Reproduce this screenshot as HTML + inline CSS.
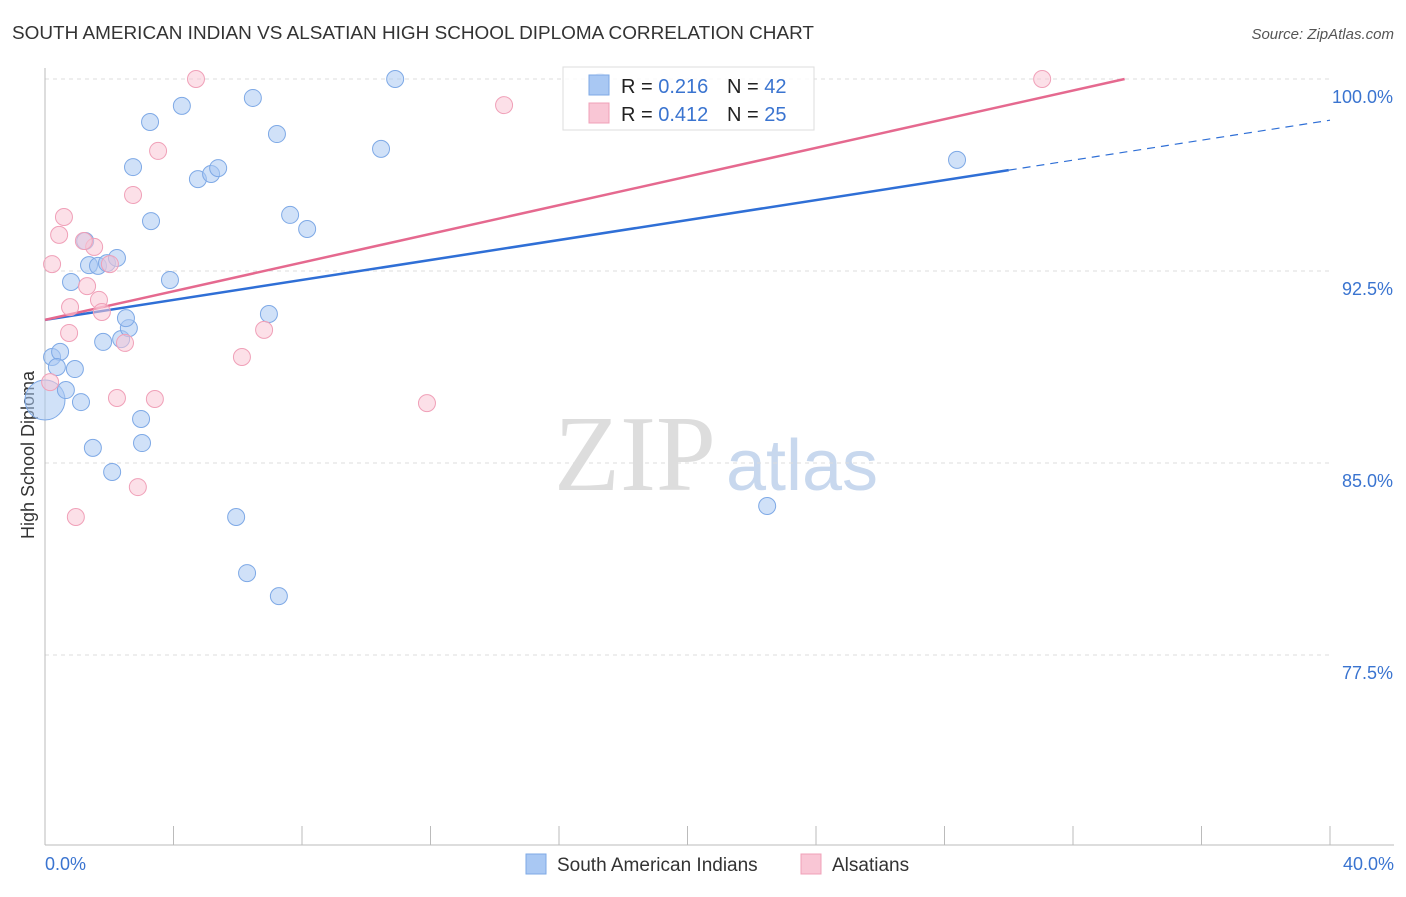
<!DOCTYPE html>
<html><head><meta charset="utf-8"><style>
body{margin:0;background:#fff;font-family:"Liberation Sans",sans-serif;}
</style></head><body>
<svg id="chart" width="1406" height="892" xmlns="http://www.w3.org/2000/svg">
<text x="12" y="39" font-size="18" fill="#333" textLength="802" lengthAdjust="spacingAndGlyphs">SOUTH AMERICAN INDIAN VS ALSATIAN HIGH SCHOOL DIPLOMA CORRELATION CHART</text>
<text x="1394" y="39" font-size="15" fill="#555" font-style="italic" text-anchor="end">Source: ZipAtlas.com</text>
<text x="34" y="455" font-size="18" fill="#333" transform="rotate(-90 34 455)" text-anchor="middle">High School Diploma</text>
<g>
<text x="635" y="490" font-size="108" font-family="Liberation Serif,serif" fill="#ddd" text-anchor="middle">ZIP</text>
<text x="802" y="490" font-size="72" fill="#c8d8ee" text-anchor="middle">atlas</text>
</g>
<g id="grid"></g><g id="axes"></g><g id="trend"></g><g id="pts"></g>
<g>
<rect x="563" y="67" width="251" height="63" fill="rgba(255,255,255,0.85)" stroke="#ddd"/>
<rect x="589" y="75" width="20" height="20" fill="#a9c8f3" stroke="#7ea9e6"/>
<rect x="589" y="103" width="20" height="20" fill="#f9c6d5" stroke="#f0a0b8"/>
<text x="621" y="93" font-size="20" fill="#222">R = <tspan fill="#3a74d0">0.216</tspan></text>
<text x="727" y="93" font-size="20" fill="#222">N = <tspan fill="#3a74d0">42</tspan></text>
<text x="621" y="121" font-size="20" fill="#222">R = <tspan fill="#3a74d0">0.412</tspan></text>
<text x="727" y="121" font-size="20" fill="#222">N = <tspan fill="#3a74d0">25</tspan></text>
</g>
<g>
<rect x="526" y="854" width="20" height="20" fill="#a9c8f3" stroke="#7ea9e6"/>
<text x="557" y="871" font-size="19" fill="#333">South American Indians</text>
<rect x="801" y="854" width="20" height="20" fill="#f9c6d5" stroke="#f0a0b8"/>
<text x="832" y="871" font-size="19" fill="#333">Alsatians</text>
</g>
</svg>
<script>
const yTicks=[100,92.5,85,77.5];
const yTickLabels=["100.0%","92.5%","85.0%","77.5%"];
const xLabels=["0.0%","40.0%"];
const blueX=[0.22,0.47,0.37,0.93,0.0,0.65,1.12,1.49,2.09,2.99,3.02,1.81,2.37,2.61,2.52,1.37,1.65,1.93,2.24,1.25,0.81,3.89,3.30,2.74,3.27,4.26,4.76,5.17,5.39,6.47,7.22,7.63,8.16,6.97,5.95,6.29,7.28,10.46,10.90,17.28,22.48,28.39];
const blueY=[89.14,89.34,88.75,88.67,87.46,87.85,87.38,85.59,84.65,86.72,85.78,89.73,89.84,90.27,90.66,92.73,92.70,92.81,93.01,93.67,92.07,92.15,94.45,96.56,98.32,98.95,96.09,96.29,96.52,99.26,97.85,94.69,94.14,90.82,82.89,80.70,79.80,97.27,100.0,99.88,83.32,96.84];
const pinkX=[0.22,0.44,0.59,0.78,0.75,1.31,1.68,1.77,1.53,1.21,2.02,2.49,2.24,3.42,2.89,0.96,2.74,3.52,4.70,6.13,6.82,11.89,14.29,31.04,0.16];
const pinkY=[92.77,93.91,94.61,91.09,90.08,91.91,91.37,90.90,93.44,93.67,92.77,89.69,87.54,87.50,84.06,82.89,95.47,97.19,100.0,89.14,90.20,87.34,98.98,100.0,88.16];
const blueTrend=[90.59,0.195];
const pinkTrend=[90.59,0.28];
const X=v=>45+v/40*1285, Y=v=>79+(100-v)/7.5*192;
const NS="http://www.w3.org/2000/svg";
function mk(p,t,a){const e=document.createElementNS(NS,t);for(const k in a)e.setAttribute(k,a[k]);document.getElementById(p).appendChild(e);return e;}
yTicks.forEach((t,i)=>{
 const l=mk('grid','line',{x1:45,x2:1330,y1:Y(t),y2:Y(t),stroke:'#ddd','stroke-dasharray':'4,4'});
 
 
 const tx=mk('grid','text',{x:1393,y:Y(t)+24,'font-size':18,fill:'#3a74d0','text-anchor':'end'});
 tx.textContent=yTickLabels[i];
 
 
});
let a=mk('axes','line',{x1:45,x2:45,y1:68,y2:845,stroke:'#bbb'});

a=mk('axes','line',{x1:45,x2:1394,y1:845,y2:845,stroke:'#bbb'});

for(let v=0;v<=40;v+=4){const t=mk('axes','line',{x1:X(v),x2:X(v),y1:826,y2:845,stroke:'#bbb'});
 
 }
[[0,'start',45],[40,'end',1394]].forEach((d,i)=>{const t=mk('axes','text',{x:d[2],y:870,'font-size':18,fill:'#3a74d0','text-anchor':d[1]});t.textContent=xLabels[i];
 
 });
let l=mk('trend','line',{x1:X(0),y1:Y(blueTrend[0]),x2:X(30),y2:Y(blueTrend[0]+30*blueTrend[1]),stroke:'#2f6fd6','stroke-width':2.5});

l=mk('trend','line',{x1:X(30),y1:Y(blueTrend[0]+30*blueTrend[1]),x2:X(40),y2:Y(blueTrend[0]+40*blueTrend[1]),stroke:'#2f6fd6','stroke-width':1.2,'stroke-dasharray':'8,6'});

const pe=(100-pinkTrend[0])/pinkTrend[1];
l=mk('trend','line',{x1:X(0),y1:Y(pinkTrend[0]),x2:X(pe),y2:Y(100),stroke:'#e5698f','stroke-width':2.5});

blueX.forEach((x,i)=>{const c=mk('pts','circle',{cx:X(x),cy:Y(blueY[i]),r:(i==4?20:8.5),fill:'rgba(169,200,243,0.55)',stroke:'#7ea9e6','stroke-width':1});
 
 });
pinkX.forEach((x,i)=>{const c=mk('pts','circle',{cx:X(x),cy:Y(pinkY[i]),r:8.5,fill:'rgba(249,198,213,0.55)',stroke:'#f0a0b8','stroke-width':1});
 
 });
</script>
</body></html>
